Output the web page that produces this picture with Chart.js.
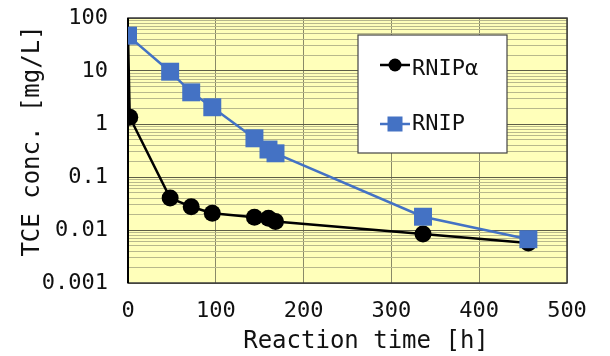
<!DOCTYPE html>
<html><head><meta charset="utf-8">
<script src="https://cdn.jsdelivr.net/npm/chart.js@4.4.1/dist/chart.umd.min.js"></script>
<style>html,body{margin:0;padding:0;background:#fff;overflow:hidden}canvas{display:block}</style>
</head><body>
<canvas id="c" width="610" height="356"></canvas>
<script>
// ---- data ----
const timeAlpha = [0, 2, 48, 72, 96, 144, 160, 168, 336, 456];
const concAlpha = [46, 1.34, 0.040, 0.0275, 0.0207, 0.0174, 0.0166, 0.0144, 0.0084, 0.0057];
const timeRnip = [0, 48, 72, 96, 144, 160, 168, 336, 456];
const concRnip = [46.4, 9.7, 3.96, 2.07, 0.537, 0.33, 0.28, 0.0178, 0.0067];
const seriesLabels = ['RNIP\u03B1', 'RNIP'];
const xTickValues = [0, 100, 200, 300, 400, 500];
const yTickValues = [0.001, 0.01, 0.1, 1, 10, 100];
const yTickLabels = ['0.001', '0.01', '0.1', '1', '10', '100'];
const xTitle = 'Reaction time [h]';
const yTitle = 'TCE conc. [mg/L]';

const MONO = '"DejaVu Sans Mono", "Liberation Mono", monospace';
const BLUE = '#4472C4';

const toPts = (xs, ys) => xs.map((x, i) => ({x: x, y: ys[i]}));
const isDecade = v => yTickValues.some(d => Math.abs(v - d) / d < 1e-6);

const framePlugin = {
  id: 'framePlugin',
  beforeDraw(chart) {
    const {ctx, chartArea: a} = chart;
    ctx.save();
    ctx.fillStyle = '#FFFFBA';
    ctx.fillRect(a.left, a.top, a.right - a.left, a.bottom - a.top);
    ctx.restore();
  },
  beforeDatasetsDraw(chart) {
    const {ctx, chartArea: a} = chart;
    ctx.save();
    ctx.strokeStyle = '#3c3c3c';
    ctx.lineWidth = 1.5;
    ctx.strokeRect(a.left, a.top, a.right - a.left, a.bottom - a.top);
    ctx.strokeStyle = '#000';
    ctx.lineWidth = 2;
    ctx.beginPath();
    ctx.moveTo(a.left, a.top);
    ctx.lineTo(a.left, a.bottom);
    ctx.stroke();
    ctx.restore();
  },
  afterDraw(chart) {
    const {ctx} = chart;
    ctx.save();
    ctx.fillStyle = '#111';
    ctx.font = '24px ' + MONO;
    ctx.textAlign = 'center';
    ctx.textBaseline = 'middle';
    ctx.fillText(xTitle, 366, 342);
    ctx.translate(33, 141);
    ctx.rotate(-Math.PI / 2);
    ctx.fillText(yTitle, 0, 0);
    ctx.restore();

    ctx.save();
    const bx = 358, by = 35, bw = 149, bh = 118;
    ctx.fillStyle = '#fff';
    ctx.fillRect(bx, by, bw, bh);
    ctx.strokeStyle = '#444';
    ctx.lineWidth = 1.2;
    ctx.strokeRect(bx, by, bw, bh);
    const rows = [65, 124];
    chart.data.datasets.forEach((ds, i) => {
      const y = rows[i];
      ctx.strokeStyle = ds.borderColor;
      ctx.lineWidth = 2.5;
      ctx.beginPath();
      ctx.moveTo(380, y);
      ctx.lineTo(410, y);
      ctx.stroke();
      ctx.fillStyle = ds.pointBackgroundColor;
      if (ds.pointStyle === 'rect') {
        ctx.fillRect(395 - 7.5, y - 7.5, 15, 15);
      } else {
        ctx.beginPath();
        ctx.arc(395, y, 6.5, 0, Math.PI * 2);
        ctx.fill();
      }
      ctx.fillStyle = '#111';
      ctx.font = '22px ' + MONO;
      ctx.textAlign = 'left';
      ctx.textBaseline = 'middle';
      ctx.fillText(ds.label, 412, i === 0 ? y + 4 : y);
    });
    ctx.restore();
  }
};

new Chart(document.getElementById('c'), {
  type: 'line',
  data: {
    datasets: [
      {
        label: seriesLabels[0],
        data: toPts(timeAlpha, concAlpha),
        borderColor: '#000',
        backgroundColor: '#000',
        pointBackgroundColor: '#000',
        pointBorderColor: '#000',
        borderWidth: 2.5,
        pointStyle: 'circle',
        pointRadius: 8.5,
        pointBorderWidth: 0,
        order: 2,
        tension: 0
      },
      {
        label: seriesLabels[1],
        data: toPts(timeRnip, concRnip),
        borderColor: BLUE,
        backgroundColor: BLUE,
        pointBackgroundColor: BLUE,
        pointBorderColor: BLUE,
        borderWidth: 2.5,
        pointStyle: 'rect',
        pointRadius: 12.7,
        pointBorderWidth: 0,
        order: 1,
        tension: 0
      }
    ]
  },
  options: {
    responsive: false,
    animation: false,
    devicePixelRatio: 1,
    layout: {padding: {top: 18, right: 43, left: 0, bottom: 0}},
    plugins: {legend: {display: false}, tooltip: {enabled: false}},
    scales: {
      x: {
        type: 'linear',
        min: 0, max: 500,
        afterFit(s) { s.height = 73; s.paddingLeft = 0; s.paddingRight = 0; },
        afterBuildTicks(s) { s.ticks = xTickValues.map(v => ({value: v})); },
        grid: {color: '#8a8a68', lineWidth: 1, drawTicks: false},
        border: {display: false},
        ticks: {
          padding: 15,
          color: '#111',
          font: {family: MONO, size: 22},
          maxRotation: 0,
          autoSkip: false,
          callback: v => String(v)
        }
      },
      y: {
        type: 'logarithmic',
        min: 0.001, max: 100,
        afterFit(s) { s.width = 128; s.paddingTop = 0; s.paddingBottom = 0; },
        afterBuildTicks(s) {
          const t = [];
          yTickValues.forEach((d, i) => {
            const lim = i === yTickValues.length - 1 ? 1 : 9;
            for (let k = 1; k <= lim; k++) t.push({value: +(d * k).toPrecision(6)});
          });
          s.ticks = t;
        },
        grid: {
          drawTicks: false,
          color: c => isDecade(c.tick.value) ? '#5e5e48' : '#b8b88c',
          lineWidth: 1
        },
        border: {display: false},
        ticks: {
          padding: 20,
          color: '#111',
          font: {family: MONO, size: 22},
          autoSkip: false,
          callback: v => {
            const i = yTickValues.findIndex(d => Math.abs(v - d) / d < 1e-6);
            return i >= 0 ? yTickLabels[i] : '';
          }
        }
      }
    }
  },
  plugins: [framePlugin]
});
</script>
</body></html>
